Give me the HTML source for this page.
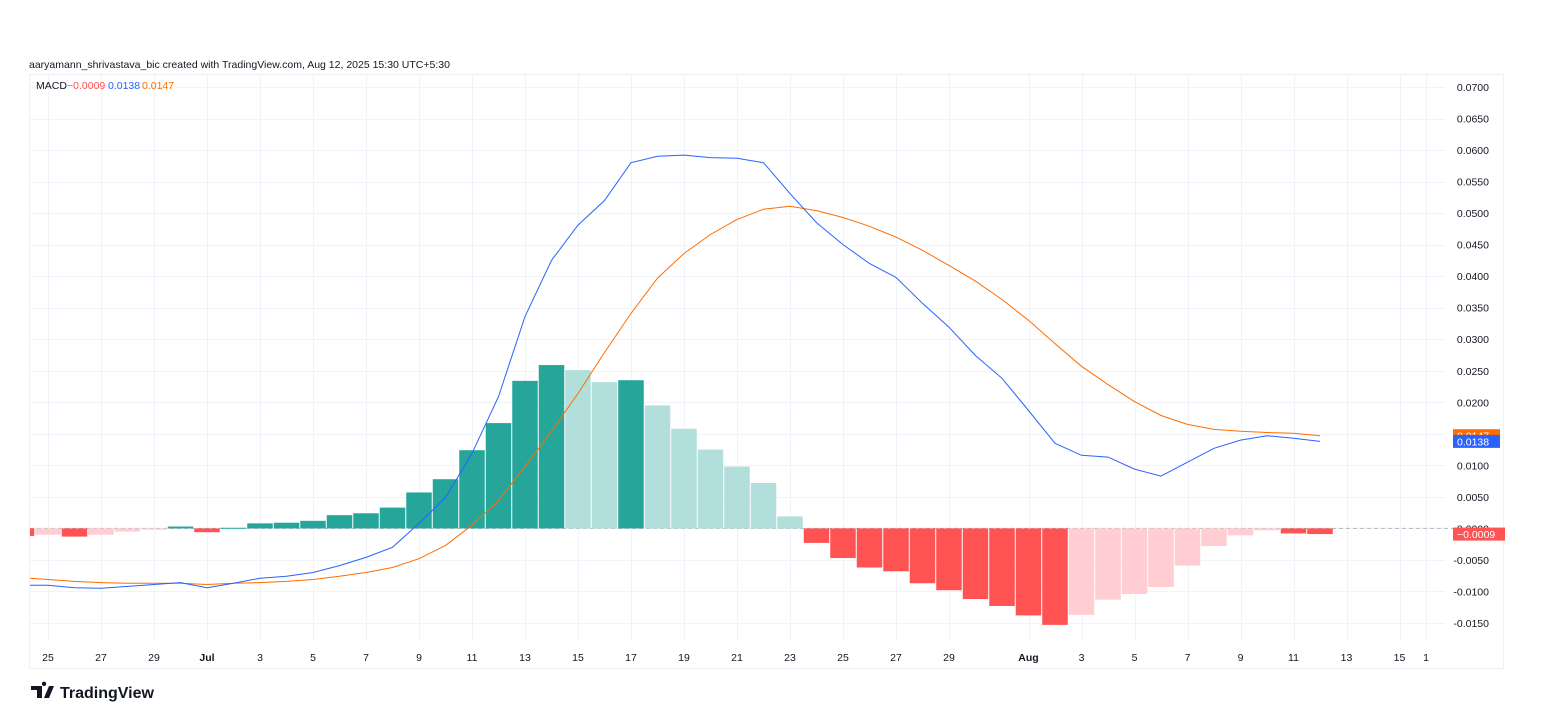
<!DOCTYPE html>
<html><head><meta charset="utf-8"><style>
body{margin:0;background:#fff;width:1542px;height:724px;overflow:hidden;font-family:"Liberation Sans",sans-serif}
svg{position:absolute;left:0;top:0}
</style></head><body>
<svg id="chart" width="1542" height="724">
<text x="29" y="68" font-size="10.5" fill="#131722">aaryamann_shrivastava_bic created with TradingView.com, Aug 12, 2025 15:30 UTC+5:30</text>
<rect x="29.5" y="74.5" width="1474" height="594" fill="none" stroke="#eef0f3"/>
<g id="grid"></g>
<g id="hist"></g>
<g id="lines"></g>
<g id="axes"></g>
<g font-size="10.5">
<text x="36" y="89" fill="#131722">MACD</text>
<text x="67" y="89" fill="#ff5252">−0.0009</text>
<text x="108" y="89" fill="#2962ff">0.0138</text>
<text x="142" y="89" fill="#ff6d00">0.0147</text>
</g>
<g>
<path d="M31 686h11v12h-5v-8h-6z M44 686a2.2 2.2 0 1 1 0.01 0z M49 686h5l-5 12h-5z" fill="#131722"/>
<text x="60" y="698" font-size="16" font-weight="bold" fill="#131722">TradingView</text>
</g>
</svg>
<script>
const dates=['24','25','26','27','28','29','30','Jul1','2','3','4','5','6','7','8','9','10','11','12','13','14','15','16','17','18','19','20','21','22','23','24','25','26','27','28','29','30','31','Aug1','2','3','4','5','6','7','8','9','10','11','12'];
const histValues=[-0.0012,-0.0010,-0.0013,-0.0010,-0.0005,-0.0002,0.0003,-0.0006,0.0001,0.0008,0.0009,0.0012,0.0021,0.0024,0.0033,0.0057,0.0078,0.0124,0.0167,0.0234,0.0259,0.0251,0.0232,0.0235,0.0195,0.0158,0.0125,0.0098,0.0072,0.0019,-0.0023,-0.0047,-0.0062,-0.0068,-0.0087,-0.0098,-0.0112,-0.0123,-0.0138,-0.0153,-0.0137,-0.0113,-0.0104,-0.0093,-0.0059,-0.0028,-0.0011,-0.0003,-0.0008,-0.0009];
const macdValues=[-0.0090,-0.0090,-0.0094,-0.0095,-0.0092,-0.0089,-0.0086,-0.0094,-0.0087,-0.0079,-0.0076,-0.0070,-0.0059,-0.0046,-0.0030,0.0008,0.0049,0.0119,0.0209,0.0336,0.0425,0.0481,0.0520,0.0580,0.0590,0.0592,0.0588,0.0587,0.0580,0.0531,0.0485,0.0450,0.0420,0.0398,0.0357,0.0319,0.0274,0.0238,0.0187,0.0135,0.0116,0.0113,0.0094,0.0083,0.0105,0.0127,0.0140,0.0147,0.0143,0.0138];
const signalValues=[-0.0079,-0.0081,-0.0084,-0.0086,-0.0087,-0.0087,-0.0087,-0.0089,-0.0087,-0.0086,-0.0084,-0.0081,-0.0076,-0.0070,-0.0062,-0.0048,-0.0027,0.0005,0.0044,0.0098,0.0154,0.0214,0.0279,0.0341,0.0397,0.0436,0.0466,0.0490,0.0506,0.0511,0.0504,0.0493,0.0479,0.0462,0.0441,0.0417,0.0392,0.0363,0.0330,0.0293,0.0257,0.0228,0.0201,0.0179,0.0165,0.0157,0.0154,0.0152,0.0151,0.0147];
const yTicks=[0.07,0.065,0.06,0.055,0.05,0.045,0.04,0.035,0.03,0.025,0.02,0.015,0.01,0.005,0,-0.005,-0.01,-0.015];
const xTickLabels=['25','27','29','Jul','3','5','7','9','11','13','15','17','19','21','23','25','27','29','Aug','3','5','7','9','11','13','15','1'];
const xTickDays=[1,3,5,7,9,11,13,15,17,19,21,23,25,27,29,31,33,35,38,40,42,44,46,48,50,52,53];
const NS='http://www.w3.org/2000/svg';
const X=i=>21.5+i*26.5;
const Y=v=>528.4-v/0.005*31.53;
function mk(tag,parent,attrs){const e=document.createElementNS(NS,tag);for(const k in attrs)e.setAttribute(k,attrs[k]);parent.appendChild(e);return e;}
const grid=document.getElementById('grid'),hist=document.getElementById('hist'),lines=document.getElementById('lines'),axes=document.getElementById('axes');
yTicks.forEach(v=>{const y=Math.round(Y(v))+0.5;
 const l=mk('line',grid,{x1:30,x2:1445,y1:y,y2:y,stroke:'#f0f3fa'});
 
 
 const t=mk('text',axes,{x:1489,y:Y(v)+4,'font-size':'10.5','text-anchor':'end',fill:'#131722'});
 t.textContent=v.toFixed(4);
 
 });
xTickDays.forEach((d,i)=>{const x=Math.round(X(d))+0.5;
 const l=mk('line',grid,{x1:x,x2:x,y1:75,y2:640,stroke:'#f0f3fa'});
 
 
 const t=mk('text',axes,{x:X(d),y:661,'font-size':'10.5','text-anchor':'middle',fill:'#131722','font-weight':(xTickLabels[i]==='Jul'||xTickLabels[i]==='Aug')?'bold':'normal'});
 t.textContent=xTickLabels[i];
 
 });
const z=mk('line',grid,{x1:30,x2:1500,y1:Y(0),y2:Y(0),stroke:'#b2b5be','stroke-dasharray':'4 3'});


histValues.forEach((v,i)=>{const prev=i>0?histValues[i-1]:v+0.001;let c;
 if(v>=0)c=v>=prev?'#26a69a':'#b2dfdb';else c=v<prev?'#ff5252':'#ffcdd2';
 let x0=X(i)-12.75,x1=X(i)+12.75;if(x0<30)x0=30;
 const y0=Y(0),y1=Y(v);
 const r=mk('rect',hist,{x:x0,y:Math.min(y0,y1),width:x1-x0,height:Math.max(1,Math.abs(y1-y0)),fill:c});
 
 });
function line(vals,col,name){const p=mk('path',lines,{d:vals.map((v,i)=>(i?'L':'M')+Math.max(30,X(i)).toFixed(1)+' '+Y(v).toFixed(1)).join(''),fill:'none',stroke:col,'stroke-width':1});
 
 }
line(signalValues,'#ff6d00','signal-line');
line(macdValues,'#2962ff','macd-line');
function badge(v,col,name,txt){const y=Y(v);
 const r=mk('rect',axes,{x:1453,y:y-6.5,width:txt.length>6?52:47,height:13,fill:col});
 
 
 const t=mk('text',axes,{x:1457,y:y+4,'font-size':'10.5',fill:'#fff'});
 t.textContent=txt;
 
 }
const L=histValues.length-1;
badge(histValues[L],'#ff5252','histogram-price-badge','−'+Math.abs(histValues[L]).toFixed(4));
badge(signalValues[L],'#ff6d00','signal-price-badge',signalValues[L].toFixed(4));
badge(macdValues[L],'#2962ff','macd-price-badge',macdValues[L].toFixed(4));
</script>
</body></html>
